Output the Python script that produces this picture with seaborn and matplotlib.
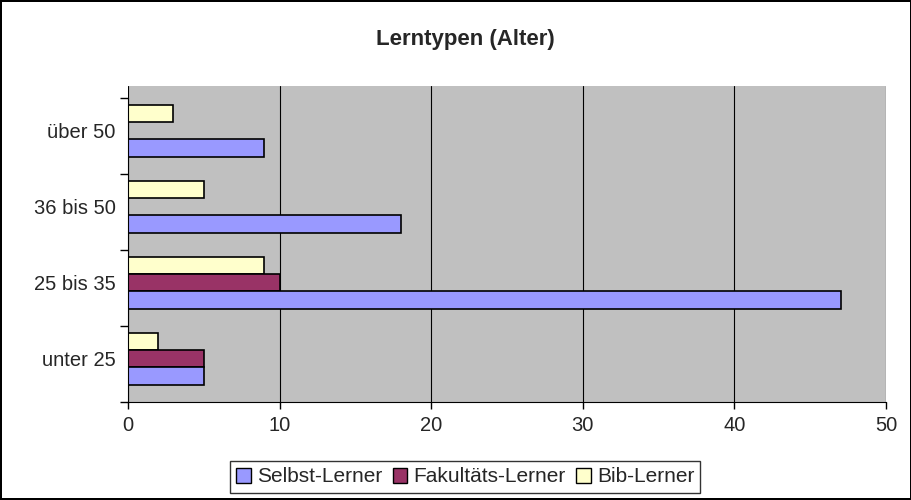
import numpy as np
import pandas as pd
import matplotlib
matplotlib.use("Agg")
import matplotlib.pyplot as plt
import seaborn as sns
from matplotlib.patches import Patch

# Daten
alter = ["über 50", "36 bis 50", "25 bis 35", "unter 25"]
selbst = [9, 18, 47, 5]
fakultaet = [np.nan, np.nan, 10, 5]
bib = [3, 5, 9, 2]
serien = ["Selbst-Lerner", "Fakultäts-Lerner", "Bib-Lerner"]
farben = {"Selbst-Lerner": "#9999FF", "Fakultäts-Lerner": "#993366", "Bib-Lerner": "#FFFFCC"}

df = pd.DataFrame({
    "alter": alter * 3,
    "typ": ["Selbst-Lerner"] * 4 + ["Fakultäts-Lerner"] * 4 + ["Bib-Lerner"] * 4,
    "anzahl": selbst + fakultaet + bib,
}).dropna()

sns.set_style("white")
plt.rcParams["font.family"] = ["Liberation Sans", "DejaVu Sans"]

fig = plt.figure(figsize=(9.12, 5), dpi=100)
fig.patch.set_edgecolor("black")
fig.patch.set_linewidth(1.5)
ax = fig.add_axes([128 / 912, 1 - 402 / 500, (886 - 128) / 912, (402 - 86) / 500])

# Bib oben, Selbst unten innerhalb jeder Gruppe
sns.barplot(data=df, y="alter", x="anzahl", hue="typ", order=alter,
            hue_order=["Bib-Lerner", "Fakultäts-Lerner", "Selbst-Lerner"],
            palette=farben, saturation=1, orient="h", width=0.68,
            edgecolor="black", linewidth=1.2, errorbar=None, legend=False, ax=ax)

ax.set_facecolor("#C0C0C0")
ax.set_xlim(0, 50)
ax.set_ylim(3.57, 3.57 - 316 / 76)
ax.set_xticks([0, 10, 20, 30, 40, 50])
ax.xaxis.grid(True, color="black", linewidth=0.8)
ax.set_axisbelow(True)
ax.set_xlabel("")
ax.set_ylabel("")

ax.set_yticks(range(4))
ax.set_yticklabels(alter)
ax.set_yticks(np.arange(-0.43, 3.6, 1.0), minor=True)
ax.tick_params(axis="y", which="major", length=0, labelsize=14.5, pad=9)
ax.tick_params(axis="y", which="minor", length=6, width=1, color="black", left=True)
ax.tick_params(axis="x", length=5, width=1, color="black", labelsize=14.5,
               bottom=True, pad=5)

for s in ["top", "right"]:
    ax.spines[s].set_visible(False)
ax.spines["left"].set_color("black")
ax.spines["bottom"].set_color("black")
ax.spines["left"].set_bounds(-0.43, 3.57)

fig.text(0.51, 1 - 39 / 500, "Lerntypen (Alter)", ha="center", va="center",
         fontsize=16, fontweight="bold")

handles = [Patch(facecolor=farben[s], edgecolor="black", label=s) for s in serien]
fig.legend(handles=handles, loc="center", bbox_to_anchor=(0.51, 1 - 477 / 500),
           ncol=3, frameon=True, fancybox=False, edgecolor="black", fontsize=15,
           handlelength=0.7, handleheight=0.7, handletextpad=0.3, columnspacing=0.5,
           borderpad=0.3, borderaxespad=0)

fig.savefig("out.png", dpi=100, facecolor="white", edgecolor=fig.get_edgecolor())
